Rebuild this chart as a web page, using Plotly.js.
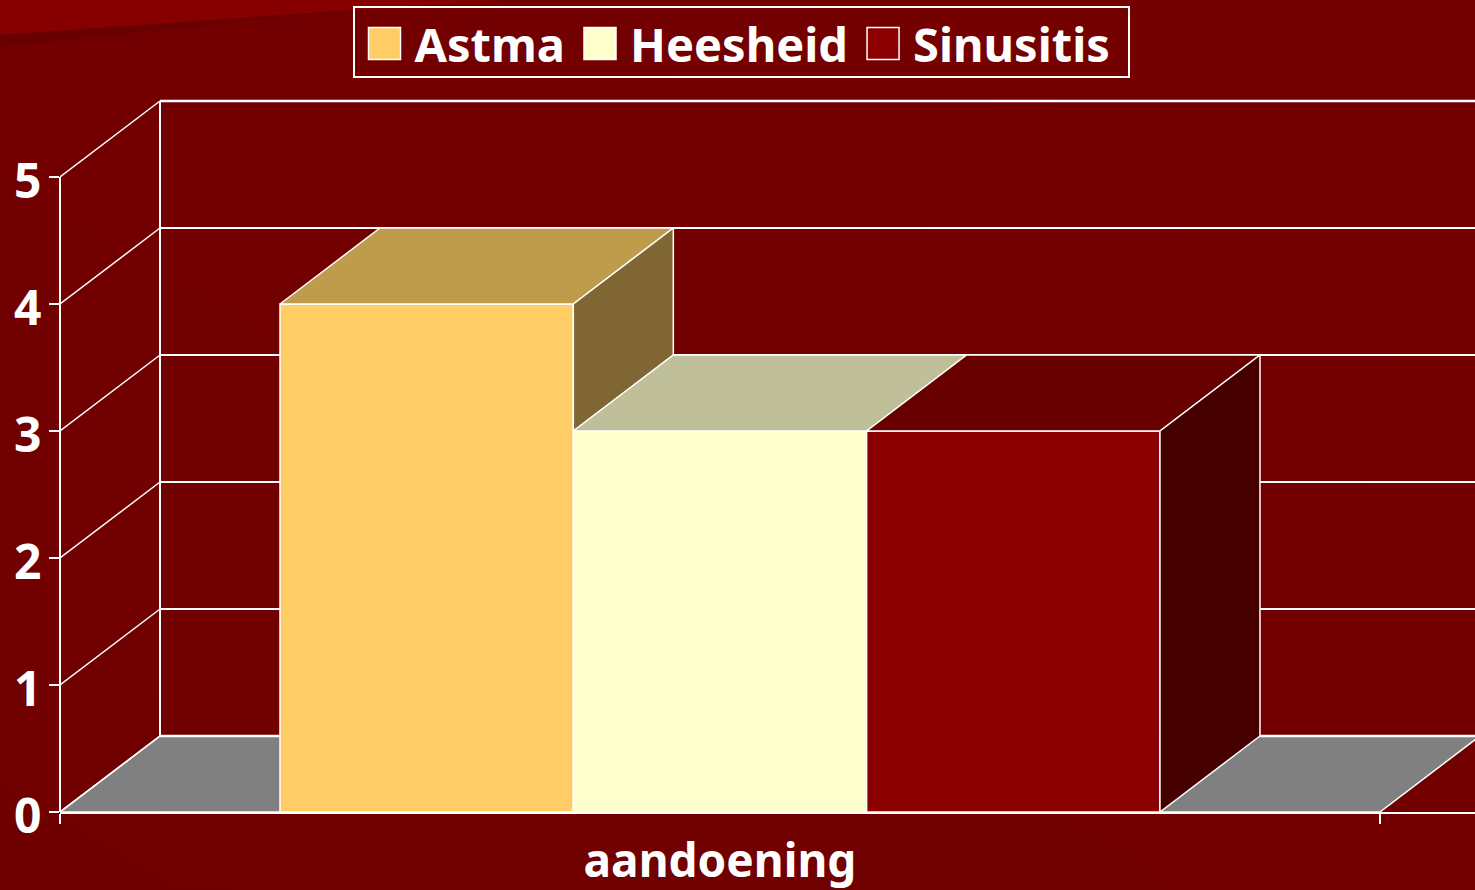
<!DOCTYPE html>
<html>
<head>
<meta charset="utf-8">
<script src="https://cdn.plot.ly/plotly-3.0.1.min.js"></script>
<style>html,body{margin:0;padding:0;overflow:hidden;background:linear-gradient(to top right,#700000,#750000)}</style>
</head>
<body>
<div id="chart" style="width:1475px;height:890px"></div>
<script>
// --- data ---
var category = 'aandoening';
var seriesNames = ['Astma', 'Heesheid', 'Sinusitis'];
var seriesValues = [4, 3, 3];
var yTicks = [0, 1, 2, 3, 4, 5];

// --- styles ---
var frontColors = ['#FFCC66', '#FFFFCC', '#8B0000'];
var topColors = ['#BF9B4C', '#BFBF99', '#680000'];
var sideColors = ['#806633', '#808066', '#460000'];
var white = '#FFFFFF';
var fontFam = '"Noto Sans", "Open Sans", sans-serif';

// --- pseudo-3D geometry in axis units ---
var xStart = -0.5, xEnd = 0.572;
var yMax = 812 / 127;
var depthX = 100 / 1320, depthY = 76 / 127;
var barGap = 1 / 3;
var barW = (1 - barGap) / seriesValues.length;

var traces = [];
seriesNames.forEach(function (name, i) {
  traces.push({
    type: 'bar', name: name, x: [category], y: [seriesValues[i]],
    marker: { color: frontColors[i], line: { color: white, width: 1.5 } },
    hoverinfo: 'skip'
  });
});
seriesNames.forEach(function (name, i) {
  var x0 = -(1 - barGap) / 2 + i * barW, x1 = x0 + barW, v = seriesValues[i];
  var next = i + 1 < seriesValues.length ? seriesValues[i + 1] : 0;
  traces.push({
    type: 'scatter', mode: 'lines', xaxis: 'x2', yaxis: 'y', showlegend: false, hoverinfo: 'skip',
    x: [x0, x0 + depthX, x1 + depthX, x1, x0], y: [v, v + depthY, v + depthY, v, v],
    fill: 'toself', fillcolor: topColors[i], line: { color: white, width: 1.5 }
  });
  if (v > next) {
    traces.push({
      type: 'scatter', mode: 'lines', xaxis: 'x2', yaxis: 'y', showlegend: false, hoverinfo: 'skip',
      x: [x1, x1 + depthX, x1 + depthX, x1, x1], y: [v, v + depthY, next + depthY, next, v],
      fill: 'toself', fillcolor: sideColors[i], line: { color: white, width: 1.5 }
    });
  }
});

var shapes = [];
function line(x0, y0, x1, y1, w) {
  shapes.push({ type: 'line', layer: 'below', xref: 'x2', yref: 'y', x0: x0, y0: y0, x1: x1, y1: y1,
    line: { color: white, width: w } });
}
function decoPath(points, color) {
  var d = points.map(function (p, i) {
    return (i ? 'L ' : 'M ') + (p[0] - 60) / 1415 + ' ' + (1 - p[1] / 812);
  }).join(' ') + ' Z';
  shapes.push({ type: 'path', layer: 'below', xref: 'paper', yref: 'paper', path: d,
    fillcolor: color, line: { width: 0 } });
}
// decorative background wedge, top left
decoPath([[0, 35], [355, 10], [500, 0], [0, 0]], '#860000');
decoPath([[0, 35], [355, 10], [0, 47]], '#680000');
// floor
shapes.push({ type: 'path', layer: 'below', xref: 'x2', yref: 'y',
  path: 'M ' + xStart + ' 0 L ' + (xStart + depthX) + ' ' + depthY + ' L ' + (0.5 + depthX) + ' ' + depthY + ' L 0.5 0 Z',
  fillcolor: '#808080', line: { color: white, width: 1.5 } });
// back wall and side wall grid
yTicks.forEach(function (t) {
  line(xStart, t, xStart + depthX, t + depthY, 1.5);
  line(xStart + depthX, t + depthY, 0.5 + depthX, t + depthY, (t === 0 || t === 5) ? 2.5 : 2);
});
line(xStart + depthX, depthY, xStart + depthX, yTicks[yTicks.length - 1] + depthY, 2);
// vertical value axis line, stops at the top tick
shapes.push({ type: 'line', layer: 'below', xref: 'paper', yref: 'y', x0: 0, x1: 0, y0: 0, y1: yTicks[yTicks.length - 1],
  line: { color: white, width: 2 } });

var layout = {
  width: 1475, height: 890,
  margin: { l: 60, r: 0, t: 0, b: 78, pad: 0 },
  paper_bgcolor: 'rgba(0,0,0,0)', plot_bgcolor: 'rgba(0,0,0,0)',
  font: { family: fontFam, color: white },
  showlegend: true,
  barmode: 'group', bargap: barGap, bargroupgap: 0,
  legend: {
    orientation: 'h', x: (353 - 60) / 1415, xanchor: 'left', y: 1 - 5 / 812, yanchor: 'top',
    bgcolor: 'rgba(0,0,0,0)', bordercolor: white, borderwidth: 1.5,
    itemwidth: 50, traceorder: 'normal',
    font: { family: fontFam, size: 47, color: white, weight: 700 }
  },
  xaxis: {
    type: 'category', range: [xStart, xEnd], tickson: 'boundaries',
    showline: true, linecolor: white, linewidth: 2,
    ticks: 'outside', ticklen: 10, tickcolor: white, tickwidth: 2,
    ticklabelstandoff: 8,
    tickfont: { family: fontFam, size: 46, color: white, weight: 700 },
    showgrid: false, zeroline: false, fixedrange: true
  },
  xaxis2: { type: 'linear', range: [xStart, xEnd], overlaying: 'x', visible: false, fixedrange: true },
  yaxis: {
    range: [0, yMax], tickmode: 'array', tickvals: yTicks, ticktext: yTicks.map(String),
    ticks: 'outside', ticklen: 10, tickcolor: white, tickwidth: 2,
    ticklabelshift: 4, ticklabelstandoff: -2,
    tickfont: { family: fontFam, size: 48, color: white, weight: 700 },
    showgrid: false, zeroline: false, showline: false, fixedrange: true
  },
  shapes: shapes
};

function tweakLegend() {
  var gd = document.getElementById('chart');
  gd.querySelectorAll('.legend .legendpoints path').forEach(function (p) {
    p.setAttribute('d', 'M16,16H-16V-16H16Z');
  });
  gd.querySelectorAll('.legend rect.bg').forEach(function (r) {
    r.setAttribute('y', '2');
    r.setAttribute('width', '775');
    r.setAttribute('height', '70');
  });
}
Plotly.newPlot('chart', traces, layout, { displayModeBar: false, staticPlot: true }).then(function (gd) {
  gd.on('plotly_afterplot', tweakLegend);
  tweakLegend();
  setTimeout(tweakLegend, 0);
  setTimeout(tweakLegend, 100);
  setTimeout(tweakLegend, 400);
});
</script>
</body>
</html>
